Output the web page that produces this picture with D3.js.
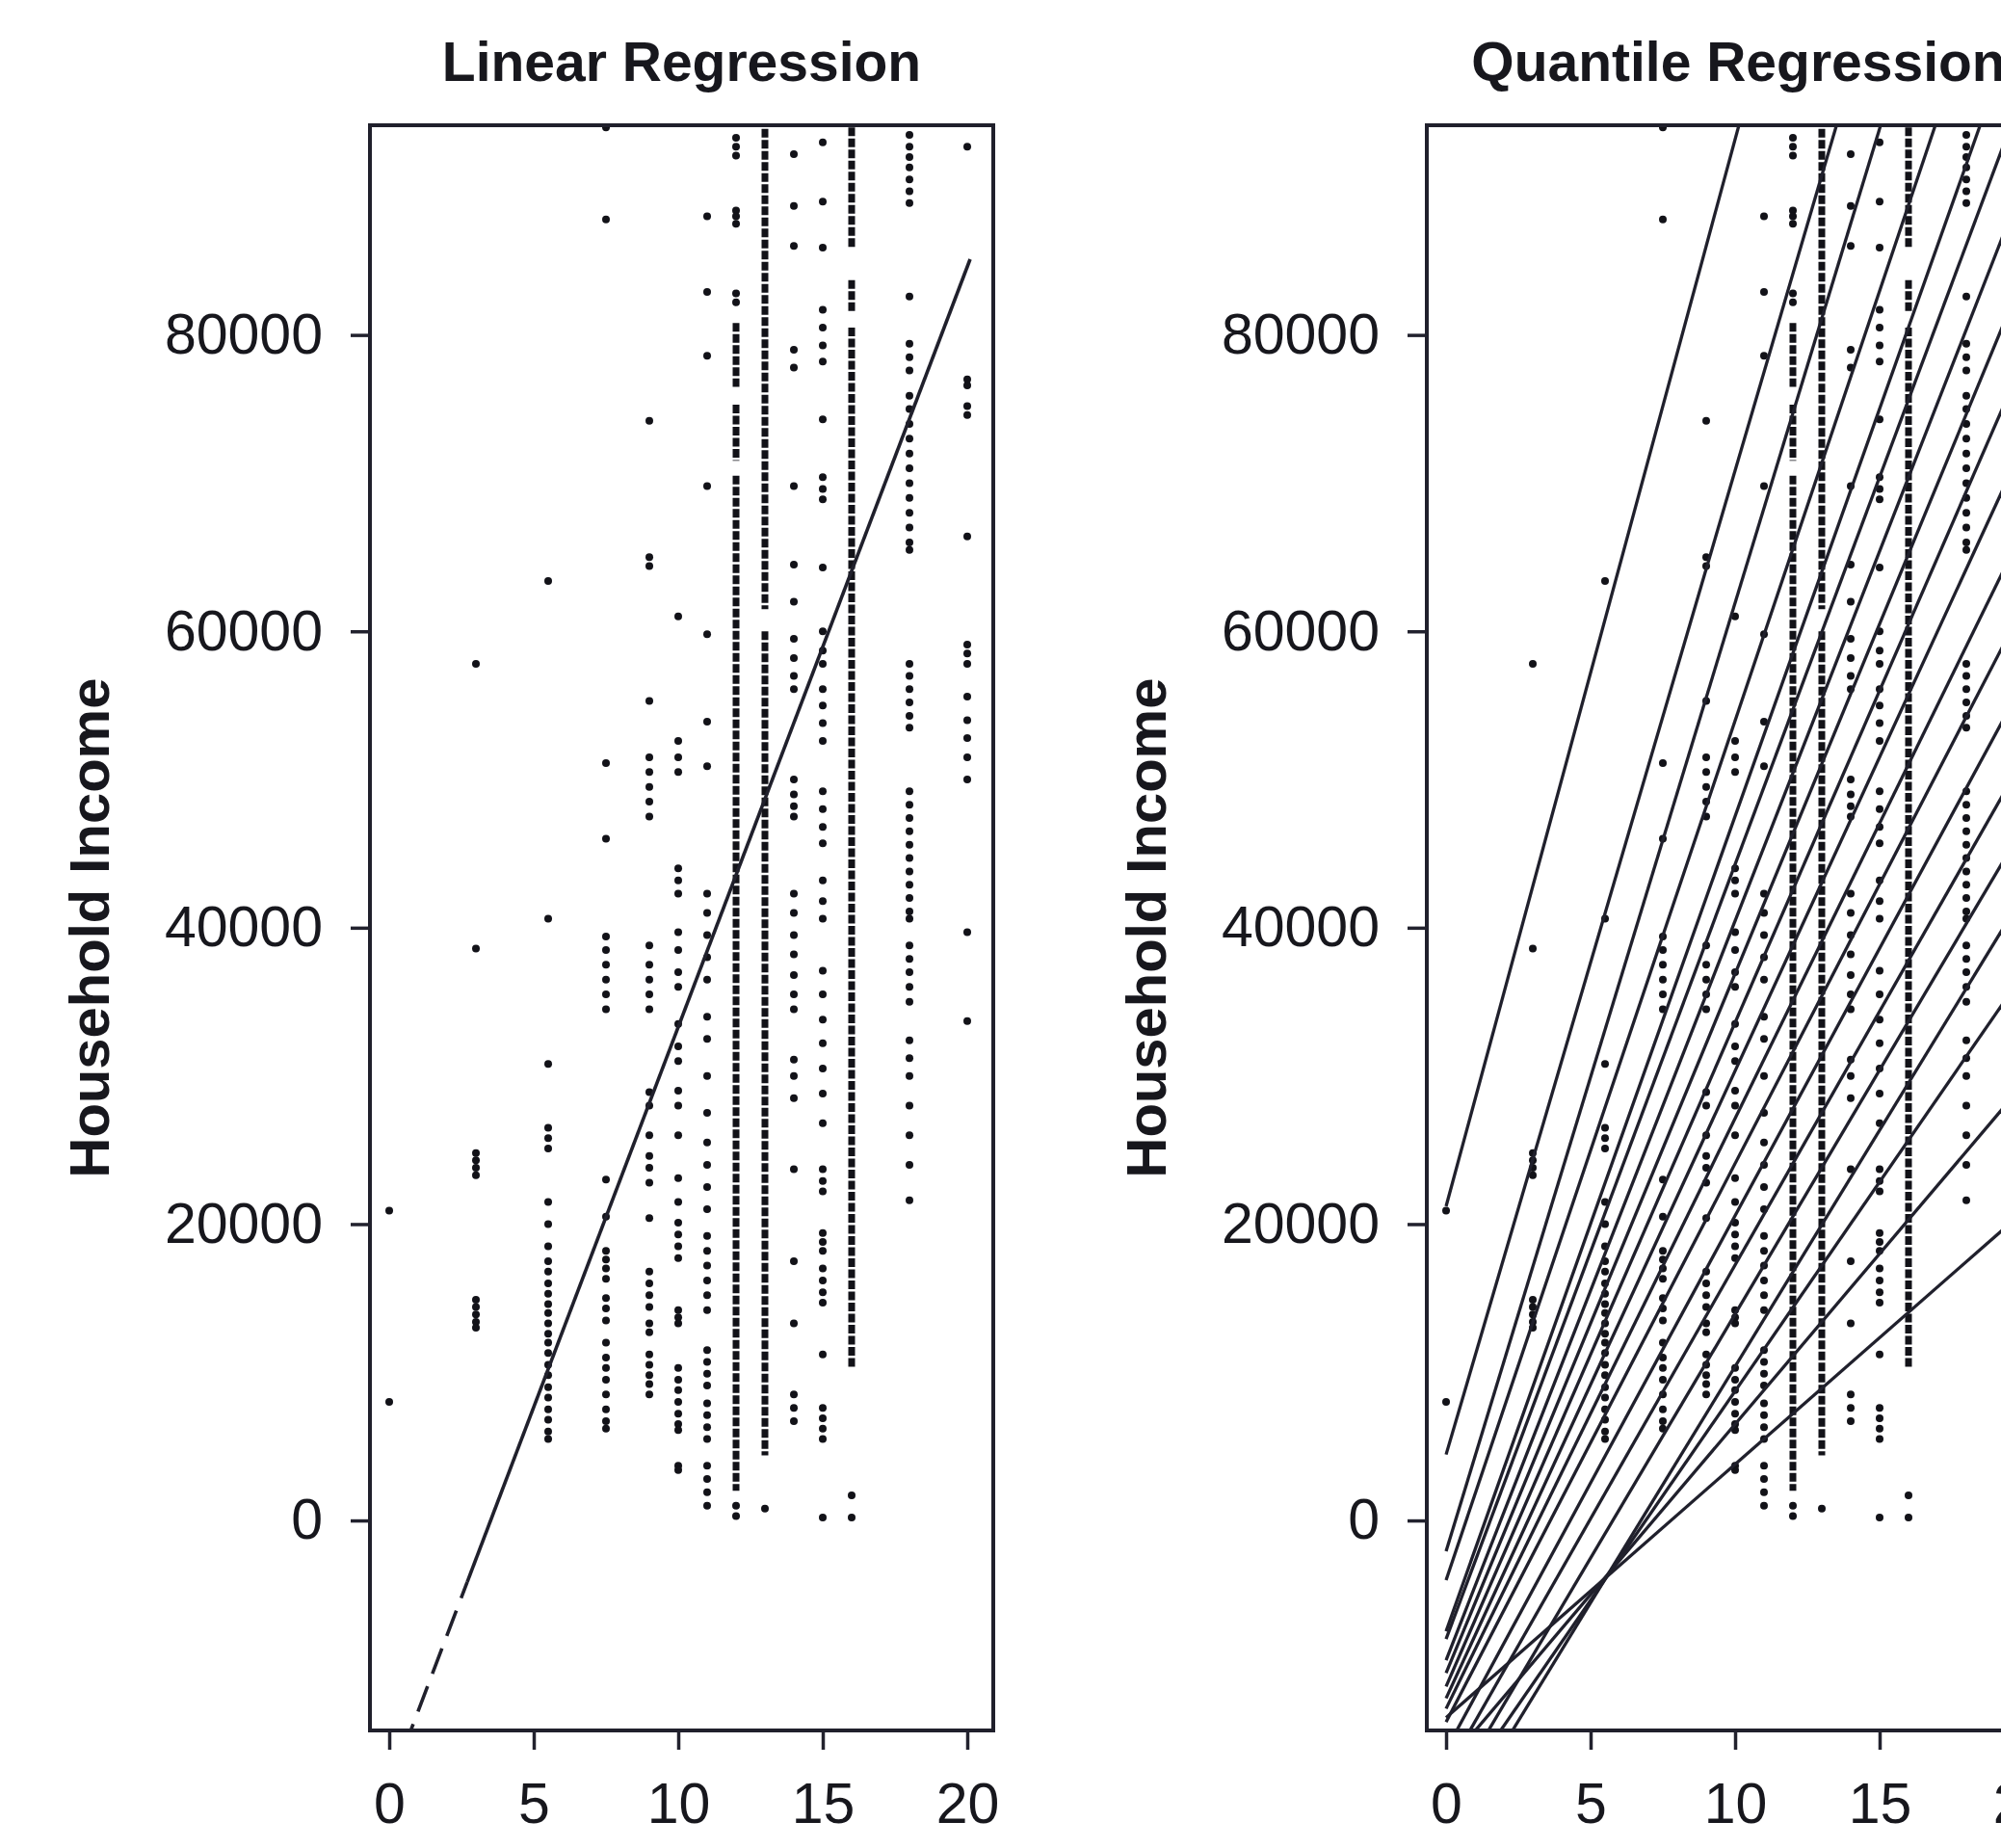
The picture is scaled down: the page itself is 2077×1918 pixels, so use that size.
<!DOCTYPE html>
<html>
<head>
<meta charset="utf-8">
<script src="https://cdn.jsdelivr.net/npm/d3@7"></script>
<style>
  body { margin: 0; background: #fff; }
  svg { display: block; }
  .tick text { font-family: "Liberation Sans", Arial, sans-serif; font-size: 59px; fill: #17171d; }
  .tick line { stroke: #22222e; stroke-width: 3.5px; }
  .title, .ylab { font-family: "Liberation Sans", Arial, sans-serif; font-weight: bold; fill: #17171d; }
</style>
</head>
<body>
<svg id="chart"></svg>
<script>
// education levels (years) and household income at each level, in $1000
const eduLevels = [0, 3, 5.5, 7.5, 9, 10, 11, 12, 13, 14, 15, 16, 18, 20]
const incomeK = [
  [20.9, 8.0],
  [57.8, 38.6, 24.8, 24.3, 23.8, 23.3, 14.9, 14.4, 13.9, 13.4, 13.0],
  [63.4, 40.6, 30.8, 26.5, 25.8, 25.1, 21.5, 20.0, 18.5, 17.5, 16.8, 16.0, 15.3, 14.6, 14.0, 13.3, 12.6, 12.0, 11.3, 10.5, 9.8, 9.0, 8.3, 7.5, 6.8, 6.0, 5.5],
  [94.0, 87.8, 51.1, 46.0, 39.4, 38.5, 37.5, 36.5, 35.5, 34.5, 23.0, 20.5, 18.2, 17.6, 17.0, 16.3, 15.0, 14.3, 13.5, 12.0, 11.0, 10.3, 9.5, 8.5, 7.5, 6.7, 6.2],
  [74.2, 65.0, 64.4, 55.3, 51.5, 50.5, 49.5, 48.5, 47.5, 38.8, 37.5, 36.5, 35.5, 34.5, 28.9, 28.0, 26.0, 24.6, 23.8, 22.8, 20.4, 16.8, 16.0, 15.2, 14.4, 13.3, 12.7, 11.2, 10.5, 9.8, 9.2, 8.5],
  [61.0, 52.6, 51.5, 50.5, 44.0, 43.2, 42.3, 39.7, 38.5, 37.0, 36.0, 33.5, 32.0, 31.0, 29.0, 28.0, 26.0, 23.1, 21.5, 20.1, 19.3, 18.5, 17.7, 14.2, 13.7, 13.3, 10.3, 9.5, 8.8, 8.0, 7.2, 6.5, 6.1, 3.7, 3.4],
  [88.0, 82.9, 78.6, 69.8, 59.8, 53.9, 50.9, 42.3, 41.0, 39.5, 38.0, 36.5, 34.0, 32.5, 30.0, 27.5, 25.5, 24.0, 22.5, 21.0, 19.2, 18.2, 17.2, 16.2, 15.2, 14.2, 11.5, 10.7, 9.9, 9.1, 7.9, 7.1, 6.3, 5.5, 3.7, 2.8, 1.9, 1.0],
  [93.3, 92.7, 92.1, 88.4, 88.0, 87.5, 82.8, 82.2, 1.0, 0.3],
  [0.8],
  [92.2, 88.7, 86.0, 79.0, 77.8, 69.8, 64.5, 62.0, 59.5, 58.2, 57.0, 56.1, 50.0, 49.0, 48.2, 47.5, 42.3, 41.0, 39.5, 38.2, 36.8, 35.5, 34.5, 31.1, 30.0, 28.5, 23.7, 17.5, 13.3, 8.5, 7.6, 6.7],
  [93.0, 89.0, 85.9, 81.7, 80.5, 79.3, 78.2, 74.3, 70.4, 69.6, 68.9, 64.3, 60.0, 58.7, 57.8, 56.1, 55.0, 53.8, 52.6, 49.2, 48.0, 46.8, 45.7, 43.2, 41.8, 40.6, 37.1, 35.5, 33.8, 32.2, 30.5, 28.8, 26.8, 23.7, 22.9, 22.2, 19.4, 18.8, 18.2, 17.0, 16.2, 15.4, 14.7, 11.2, 7.6, 6.9, 6.2, 5.5, 0.2],
  [1.7, 0.2],
  [93.5, 92.7, 92.0, 91.3, 90.5, 89.7, 88.9, 82.6, 79.4, 78.5, 77.6, 75.9, 75.0, 74.0, 73.0, 72.0, 71.0, 70.0, 69.0, 68.0, 67.0, 66.0, 65.5, 57.8, 57.0, 56.1, 55.2, 54.3, 53.5, 49.2, 48.3, 47.4, 46.5, 45.6, 44.7, 43.8, 42.9, 42.0, 41.1, 40.6, 38.8, 37.9, 37.0, 36.0, 35.0, 32.4, 31.2, 30.0, 28.0, 26.0, 24.0, 21.6],
  [92.7, 77.0, 76.6, 75.2, 74.6, 66.4, 59.1, 58.5, 57.8, 55.6, 54.0, 52.8, 51.5, 50.0, 39.7, 33.7]
]
// stretches where the points are packed so tight they read as a column ($1000)
const runEdu = [12, 12, 12, 13, 13, 16, 16, 16]
const runLow = [76.5, 71.5, 2.0, 4.4, 61.5, 10.3, 81.5, 85.8]
const runHigh = [80.8, 75.3, 70.5, 60.0, 93.9, 80.5, 83.7, 94.0]

// linear regression fit
const olsIntercept = -18000
const olsSlope = 5130
const olsDashTo = 2.7
const olsEnd = 20.1

// quantile regression fits, tau = .95 down to .05
const quantiles = [0.95, 0.90, 0.85, 0.80, 0.75, 0.70, 0.65, 0.60, 0.55, 0.50, 0.45, 0.40, 0.35, 0.30, 0.25, 0.20, 0.15, 0.10, 0.05]
const qIntercept = [21200, 4450, -2080, -4030, -7480, -8000, -9430, -10300, -11200, -12000, -12700, -13600, -15500, -17000, -19000, -21500, -19500, -16500, -13300]
const qSlope = [7200, 6640, 6400, 5800, 5500, 5227, 4989, 4720, 4480, 4234, 3983, 3769, 3607, 3424, 3293, 3189, 2823, 2300, 1709]

const xTicks = [0, 5, 10, 15, 20]
const yTicks = [0, 20000, 40000, 60000, 80000]

const width = 2077, height = 1918
const ink = '#20202c'
const dotInk = '#121218'
const plotTop = 130, plotBottom = 1796, boxW = 647

const svg = d3.select('#chart').attr('width', width).attr('height', height)

const points = []
eduLevels.forEach((e, i) => incomeK[i].forEach(v => points.push({x: e, y: v * 1000})))
const runs = runEdu.map((e, i) => ({x: e, lo: runLow[i] * 1000, hi: runHigh[i] * 1000}))

const panels = [
  {left: 384, title: 'Linear Regression', id: 'lin'},
  {left: 1481, title: 'Quantile Regression', id: 'qr'}
]

panels.forEach(p => {
  const x = d3.scaleLinear().domain([-0.667, 20.9]).range([p.left, p.left + boxW])
  const y = d3.scaleLinear().domain([-14170, 94150]).range([plotBottom, plotTop])

  const g = svg.append('g')

  svg.append('clipPath').attr('id', 'clip-' + p.id)
    .append('rect')
      .attr('x', p.left).attr('y', plotTop)
      .attr('width', boxW).attr('height', plotBottom - plotTop)

  const plot = g.append('g').attr('clip-path', `url(#clip-${p.id})`)

  plot.selectAll('line.run').data(runs)
    .enter().append('line')
      .attr('class', 'run')
      .attr('x1', d => x(d.x)).attr('x2', d => x(d.x))
      .attr('y1', d => y(d.hi)).attr('y2', d => y(d.lo))
      .attr('stroke', dotInk)
      .attr('stroke-width', 7)
      .attr('stroke-dasharray', '9,2.5')

  plot.selectAll('circle').data(points)
    .enter().append('circle')
      .attr('cx', d => x(d.x))
      .attr('cy', d => y(d.y))
      .attr('r', 4)
      .attr('fill', dotInk)

  if (p.id === 'lin') {
    const f = t => olsIntercept + olsSlope * t
    plot.append('line')
      .attr('x1', x(0)).attr('y1', y(f(0)))
      .attr('x2', x(olsDashTo)).attr('y2', y(f(olsDashTo)))
      .attr('stroke', ink).attr('stroke-width', 3.6)
      .attr('stroke-dasharray', '28,14')
    plot.append('line')
      .attr('x1', x(olsDashTo)).attr('y1', y(f(olsDashTo)))
      .attr('x2', x(olsEnd)).attr('y2', y(f(olsEnd)))
      .attr('stroke', ink).attr('stroke-width', 3.6)
  } else {
    plot.selectAll('line.q').data(quantiles)
      .enter().append('line')
        .attr('class', 'q')
        .attr('x1', x(0)).attr('y1', (d, i) => y(qIntercept[i]))
        .attr('x2', x(21)).attr('y2', (d, i) => y(qIntercept[i] + qSlope[i] * 21))
        .attr('stroke', ink).attr('stroke-width', 3.3)
  }

  g.append('rect')
    .attr('x', p.left).attr('y', plotTop)
    .attr('width', boxW).attr('height', plotBottom - plotTop)
    .attr('fill', 'none').attr('stroke', ink).attr('stroke-width', 4)

  const ya = g.append('g').attr('transform', `translate(${p.left},0)`)
    .call(d3.axisLeft(y).tickValues(yTicks).tickFormat(d3.format('d')).tickSize(20).tickPadding(29))
  ya.select('.domain').remove()

  const xa = g.append('g').attr('transform', `translate(0,${plotBottom})`)
    .call(d3.axisBottom(x).tickValues(xTicks).tickSize(20).tickPadding(34))
  xa.select('.domain').remove()

  g.append('text')
    .attr('class', 'title')
    .attr('x', p.left + boxW / 2).attr('y', 84)
    .attr('text-anchor', 'middle')
    .style('font-size', '57px')
    .text(p.title)

  g.append('text')
    .attr('class', 'ylab')
    .attr('transform', `translate(${p.left - 271},${(plotTop + plotBottom) / 2}) rotate(-90)`)
    .attr('text-anchor', 'middle')
    .style('font-size', '58px')
    .text('Household Income')
})
</script>
</body>
</html>
